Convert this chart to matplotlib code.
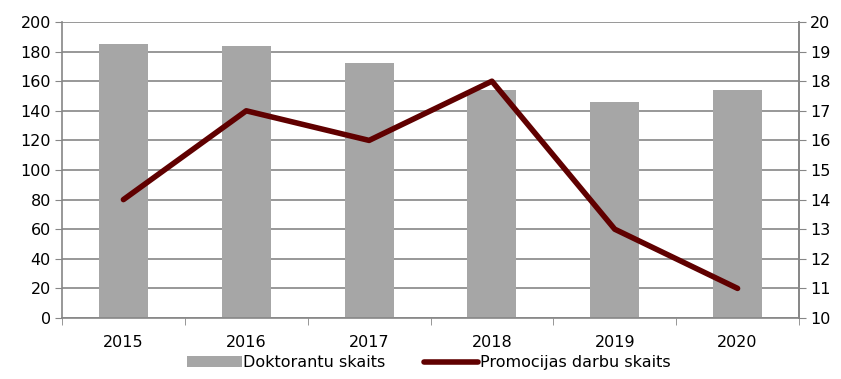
import matplotlib
matplotlib.use("Agg")
import matplotlib.pyplot as plt
import numpy as np

years = ["2015", "2016", "2017", "2018", "2019", "2020"]
doktoranti = [185, 184, 172, 154, 146, 154]
promocijas = [14, 17, 16, 18, 13, 11]

plt.rcParams['font.family'] = ['DejaVu Sans']
fs = 11.5

fig = plt.figure(figsize=(8.41, 3.79), dpi=100)
ax = fig.add_axes([62/841, 1-318/379, (799-62)/841, (318-22)/379])
x = np.arange(len(years))
ax.set_axisbelow(True)
ax.yaxis.grid(True, color="#868686", linewidth=1.2)
bars = ax.bar(x, doktoranti, width=0.4, color="#a6a6a6", label="Doktorantu skaits", zorder=2)
ax.set_xlim(-0.5, len(years)-0.5)
ax.set_ylim(0, 200)
ax.set_yticks(np.arange(0, 201, 20))
ax.set_xticks(x)
ax.set_xticklabels(years)
ax.set_xticks(np.arange(-0.5, len(years), 1), minor=True)
ax.tick_params(axis='x', which='major', length=0, pad=12, labelsize=fs)
ax.tick_params(axis='x', which='minor', length=5, color="#868686", direction='out')
ax.tick_params(axis='y', length=5, color="#868686", labelsize=fs, pad=3)
ax.spines["top"].set_visible(False)
for s in ["left", "bottom", "right"]:
    ax.spines[s].set_color("#868686")
    ax.spines[s].set_linewidth(1.2)

ax2 = ax.twinx()
line, = ax2.plot(x, promocijas, color="#600000", linewidth=4, solid_capstyle='round',
                 label="Promocijas darbu skaits", zorder=3)
ax2.set_ylim(10, 20)
ax2.set_yticks(np.arange(10, 21, 1))
ax2.tick_params(axis='y', length=5, color="#868686", labelsize=fs, pad=3)
ax2.spines["top"].set_visible(False)
ax2.spines["right"].set_color("#868686")
ax2.spines["right"].set_linewidth(1.2)
ax2.spines["left"].set_visible(False)
ax2.spines["bottom"].set_visible(False)

fig.legend(handles=[bars, line], labels=["Doktorantu skaits", "Promocijas darbu skaits"],
           loc="lower center", bbox_to_anchor=(0.51, -0.015), ncol=2, frameon=False,
           fontsize=fs, handlelength=3.4, handletextpad=0.1, columnspacing=2.4)

fig.savefig("out.png", dpi=100)
